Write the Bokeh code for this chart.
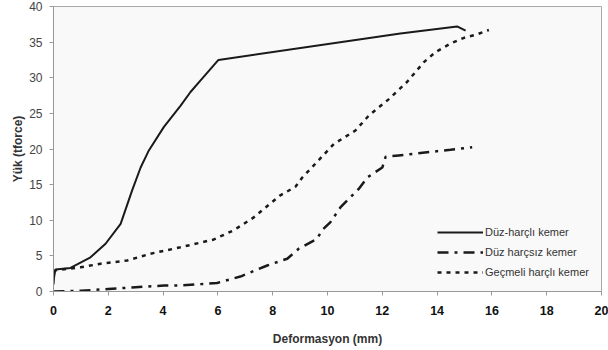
from bokeh.plotting import figure
from bokeh.models import Range1d, FixedTicker, Legend, LegendItem
from bokeh.embed import file_html
from bokeh.resources import INLINE

# Data
duz_harcli_x = [0, 0.02, 0.07, 0.62, 1.35, 1.9, 2.45, 2.87, 3.18, 3.48, 4.03, 4.64, 5.0, 5.36, 6.02, 12.66, 14.73, 15.04]
duz_harcli_y = [1.0, 2.0, 3.1, 3.3, 4.8, 6.7, 9.5, 14.2, 17.4, 19.8, 23.1, 26.1, 28.0, 29.6, 32.5, 36.2, 37.2, 36.6]

duz_harcsiz_x = [0, 1.0, 2.0, 3.0, 4.03, 4.63, 5.97, 6.82, 7.8, 8.53, 8.95, 9.62, 9.8, 10.1, 10.47, 11.14, 11.45, 12.0, 12.12, 12.6, 14.49, 15.28]
duz_harcsiz_y = [0.0, 0.1, 0.35, 0.6, 0.84, 0.84, 1.2, 2.1, 3.65, 4.6, 6.0, 7.4, 8.6, 9.7, 11.8, 14.4, 16.0, 17.4, 18.9, 19.1, 19.9, 20.25]

gecmeli_x = [0, 0.1, 0.99, 1.72, 2.69, 3.54, 4.63, 5.85, 6.58, 7.31, 7.74, 8.28, 8.83, 9.08, 9.5, 10.23, 11.02, 11.51, 12.24, 12.9, 13.52, 13.94, 14.49, 14.98, 15.46, 15.89]
gecmeli_y = [2.8, 3.0, 3.4, 3.9, 4.35, 5.3, 6.2, 7.3, 8.6, 10.4, 11.8, 13.5, 14.7, 16.0, 17.7, 20.7, 22.6, 24.7, 27.0, 29.4, 32.2, 33.6, 34.8, 35.6, 36.1, 36.7]

x_ticks = [0, 2, 4, 6, 8, 10, 12, 14, 16, 18, 20]
y_ticks = [0, 5, 10, 15, 20, 25, 30, 35, 40]

series_labels = ["Düz-harçlı kemer", "Düz harçsız kemer", "Geçmeli harçlı kemer"]

p = figure(width=608, height=356, output_backend="svg", toolbar_location=None,
           x_range=Range1d(0, 20), y_range=Range1d(0, 40),
           min_border_left=53, min_border_right=7, min_border_top=14, min_border_bottom=57,
           background_fill_color="#f9f9f9", border_fill_color="white",
           outline_line_color="#aaaaaa", outline_line_width=1)
p.margin = (-8, 0, 0, 0)

p.grid.visible = False

font = "Liberation Sans"

p.xaxis.ticker = FixedTicker(ticks=x_ticks)
p.yaxis.ticker = FixedTicker(ticks=y_ticks)
for ax in (p.xaxis[0], p.yaxis[0]):
    ax.axis_line_color = "#999999"
    ax.major_tick_line_color = "#999999"
    ax.minor_tick_line_color = None
    ax.major_tick_out = 4
    ax.major_tick_in = 0
    ax.major_label_text_font = font
    ax.axis_label_text_font = font
    ax.axis_label_text_font_style = "bold"
    ax.axis_label_text_font_size = "12px"
    ax.axis_label_text_color = "#333333"

p.xaxis.major_label_text_font_size = "12.5px"
p.xaxis.major_label_text_font_style = "bold"
p.xaxis.major_label_text_color = "#111111"
p.xaxis.major_label_standoff = 10
p.xaxis.axis_label = "Deformasyon (mm)"
p.xaxis.axis_label_standoff = 14

p.yaxis.major_label_text_font_size = "12px"
p.yaxis.major_label_text_color = "#444444"
p.yaxis.major_label_standoff = 7
p.yaxis.axis_label = "Yük (tforce)"
p.yaxis.axis_label_standoff = 1

r1 = p.line(duz_harcli_x, duz_harcli_y, line_color="#1a1a1a", line_width=2)
r2 = p.line(duz_harcsiz_x, duz_harcsiz_y, line_color="#1a1a1a", line_width=2.5, line_dash="11 6 3 6")
r3 = p.line(gecmeli_x, gecmeli_y, line_color="#1a1a1a", line_width=2.5, line_dash="4 5")

legend = Legend(items=[LegendItem(label=series_labels[0], renderers=[r1]),
                       LegendItem(label=series_labels[1], renderers=[r2]),
                       LegendItem(label=series_labels[2], renderers=[r3])],
                location=(384, 9), padding=0, margin=0, spacing=0,
                glyph_width=46, glyph_height=20, label_standoff=2,
                label_text_font=font, label_text_font_size="11px", label_text_color="#333333",
                background_fill_alpha=0, border_line_color=None)
p.add_layout(legend, "center")

open("out.html", "w").write(file_html(p, INLINE))
